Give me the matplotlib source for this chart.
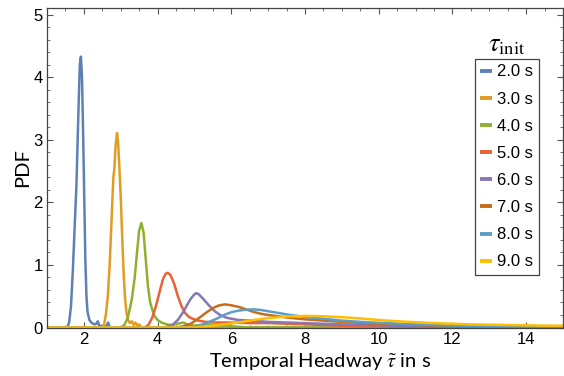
import matplotlib
matplotlib.use("Agg")
import matplotlib.pyplot as plt
from matplotlib.ticker import MultipleLocator

plt.rcParams['mathtext.fontset'] = 'stix'

# headway grid / PDF values, one pair per initial headway
x_20 = [1.0, 1.55, 1.60, 1.65, 1.70, 1.75, 1.80, 1.85, 1.89, 1.92, 1.95, 1.98, 2.01, 2.04, 2.07,
        2.10, 2.15, 2.20, 2.28, 2.34, 2.38, 2.42, 2.48, 2.55, 2.62, 2.66, 2.70, 2.78, 15.0]
y_20 = [0, 0, 0.08, 0.33, 0.9, 1.6, 2.3, 3.4, 4.2, 4.33, 4.0, 3.1, 2.1, 1.1, 0.5,
        0.25, 0.12, 0.08, 0.05, 0.06, 0.1, 0.02, 0.03, 0.0, 0.03, 0.08, 0.01, 0, 0]

x_30 = [1.0, 2.50, 2.55, 2.60, 2.65, 2.70, 2.75, 2.80, 2.83, 2.86, 2.90, 2.93, 2.96, 3.00, 3.04,
        3.08, 3.12, 3.16, 3.20, 3.25, 3.30, 3.35, 3.40, 3.45, 3.50, 3.55, 3.65, 15.0]
y_30 = [0, 0, 0.05, 0.22, 0.5, 1.0, 1.7, 2.4, 2.55, 2.9, 3.11, 2.95, 2.6, 2.1, 1.45,
        0.85, 0.45, 0.22, 0.12, 0.07, 0.1, 0.04, 0.08, 0.03, 0.05, 0.01, 0, 0]

x_40 = [1.0, 3.00, 3.10, 3.20, 3.30, 3.38, 3.45, 3.50, 3.56, 3.62, 3.68, 3.74, 3.80, 3.86, 3.92,
        4.00, 4.10, 4.25, 4.40, 4.55, 4.70, 4.80, 5.00, 5.30, 5.60, 6.00, 6.50, 15.0]
y_40 = [0, 0, 0.04, 0.17, 0.45, 0.8, 1.25, 1.55, 1.67, 1.52, 1.08, 0.65, 0.40, 0.28, 0.18,
        0.12, 0.08, 0.05, 0.04, 0.06, 0.08, 0.05, 0.03, 0.05, 0.04, 0.02, 0, 0]

x_50 = [1.0, 3.65, 3.75, 3.85, 3.95, 4.05, 4.15, 4.22, 4.28, 4.35, 4.45, 4.55, 4.65, 4.75, 4.85,
        4.95, 5.10, 5.30, 5.60, 6.00, 6.50, 7.00, 7.50, 8.00, 9.00, 10.0, 11.0, 12.0, 15.0]
y_50 = [0, 0, 0.04, 0.15, 0.33, 0.56, 0.78, 0.86, 0.874, 0.84, 0.70, 0.50, 0.34, 0.23, 0.17,
        0.14, 0.11, 0.09, 0.08, 0.08, 0.07, 0.07, 0.06, 0.05, 0.03, 0.02, 0.01, 0, 0]

x_60 = [1.0, 4.20, 4.40, 4.55, 4.70, 4.80, 4.90, 5.00, 5.05, 5.12, 5.25, 5.40, 5.55, 5.70, 5.85,
        6.00, 6.20, 6.50, 7.00, 7.50, 8.00, 9.00, 10.0, 11.0, 12.0, 13.0, 15.0]
y_60 = [0, 0, 0.04, 0.12, 0.25, 0.36, 0.46, 0.53, 0.55, 0.53, 0.45, 0.35, 0.26, 0.20, 0.16,
        0.14, 0.12, 0.11, 0.09, 0.08, 0.07, 0.05, 0.035, 0.02, 0.01, 0, 0]

x_70 = [1.0, 4.50, 4.70, 4.90, 5.10, 5.30, 5.50, 5.65, 5.82, 6.00, 6.20, 6.40, 6.60, 6.80, 7.00,
        7.50, 8.00, 8.50, 9.00, 10.0, 11.0, 12.0, 13.0, 14.0, 15.0]
y_70 = [0, 0, 0.02, 0.06, 0.14, 0.23, 0.31, 0.35, 0.37, 0.355, 0.33, 0.29, 0.25, 0.22, 0.20,
        0.16, 0.13, 0.11, 0.09, 0.06, 0.04, 0.025, 0.015, 0.01, 0.005]

x_80 = [1.0, 4.80, 5.00, 5.20, 5.40, 5.60, 5.80, 6.00, 6.20, 6.40, 6.60, 6.80, 7.00, 7.30, 7.60,
        8.00, 8.50, 9.00, 9.50, 10.0, 11.0, 12.0, 13.0, 14.0, 15.0]
y_80 = [0, 0, 0.01, 0.04, 0.09, 0.14, 0.20, 0.245, 0.27, 0.285, 0.29, 0.28, 0.26, 0.23, 0.20,
        0.17, 0.14, 0.11, 0.09, 0.075, 0.05, 0.03, 0.02, 0.012, 0.008]

x_90 = [1.0, 5.00, 5.40, 5.80, 6.20, 6.60, 7.00, 7.50, 8.00, 8.50, 9.00, 9.50, 10.0, 10.5, 11.0,
        11.5, 12.0, 12.5, 13.0, 13.5, 14.0, 14.5, 15.0]
y_90 = [0, 0, 0.02, 0.05, 0.08, 0.12, 0.15, 0.175, 0.185, 0.18, 0.165, 0.145, 0.12, 0.10, 0.085,
        0.07, 0.06, 0.05, 0.045, 0.04, 0.035, 0.03, 0.028]

labels = ['2.0 s', '3.0 s', '4.0 s', '5.0 s', '6.0 s', '7.0 s', '8.0 s', '9.0 s']
series = [(x_20, y_20), (x_30, y_30), (x_40, y_40), (x_50, y_50),
          (x_60, y_60), (x_70, y_70), (x_80, y_80), (x_90, y_90)]
# Mathematica default palette
colors = ['#5E81B5', '#E19C24', '#8FB032', '#EB6235',
          '#8778B3', '#C56E1A', '#5D9EC7', '#FFBF00']

fig = plt.figure(figsize=(5.64, 3.76), dpi=100)
ax = fig.add_axes([47/564, 1-327.5/376, 516/564, 319/376])

for (xs, ys), lab, c in zip(series, labels, colors):
    ax.plot(xs, ys, color=c, lw=1.8, label=lab, solid_capstyle='round')

ax.set_xlim(1, 15)
ax.set_ylim(0, 5.1)
ax.xaxis.set_major_locator(MultipleLocator(2))
ax.xaxis.set_minor_locator(MultipleLocator(0.5))
ax.yaxis.set_major_locator(MultipleLocator(1))
ax.yaxis.set_minor_locator(MultipleLocator(0.2))
ax.tick_params(which='both', direction='in', top=True, right=True, color='#555555',
               labelsize=12, pad=3)
ax.tick_params(which='major', length=4, width=0.8)
ax.tick_params(which='minor', length=2.5, width=0.6)
for lbl in ax.get_xticklabels() + ax.get_yticklabels():
    lbl.set_fontfamily('Liberation Sans')
for sp in ax.spines.values():
    sp.set_color('#444444')
    sp.set_linewidth(0.9)

ax.set_xlabel(r'Temporal Headway $\tilde{\tau}$ in s', fontsize=14.5, family='Lato', labelpad=2)
ax.xaxis.set_label_coords((320 - 47) / 516, -0.075, transform=ax.transAxes)
ax.xaxis.label.set_va('top')
ax.set_ylabel('PDF', fontsize=14.5, family='Lato', labelpad=1.5)

leg = ax.legend(loc='upper left', bbox_to_anchor=(475/564, 1-59/376),
                bbox_transform=fig.transFigure, fancybox=False, framealpha=1,
                edgecolor='#444444', handlelength=0.72, handletextpad=0.3,
                labelspacing=0.73, borderpad=0.32, borderaxespad=0,
                prop={'family': 'Liberation Sans', 'size': 12})
leg.get_frame().set_linewidth(0.9)
for lh in leg.get_lines():
    lh.set_linewidth(2.8)
    lh.set_solid_capstyle('butt')

fig.text(507/564, 1-44/376, r'$\tau_{\mathrm{init}}$', fontsize=19, ha='center', va='center')

fig.savefig('out.png', dpi=100)
